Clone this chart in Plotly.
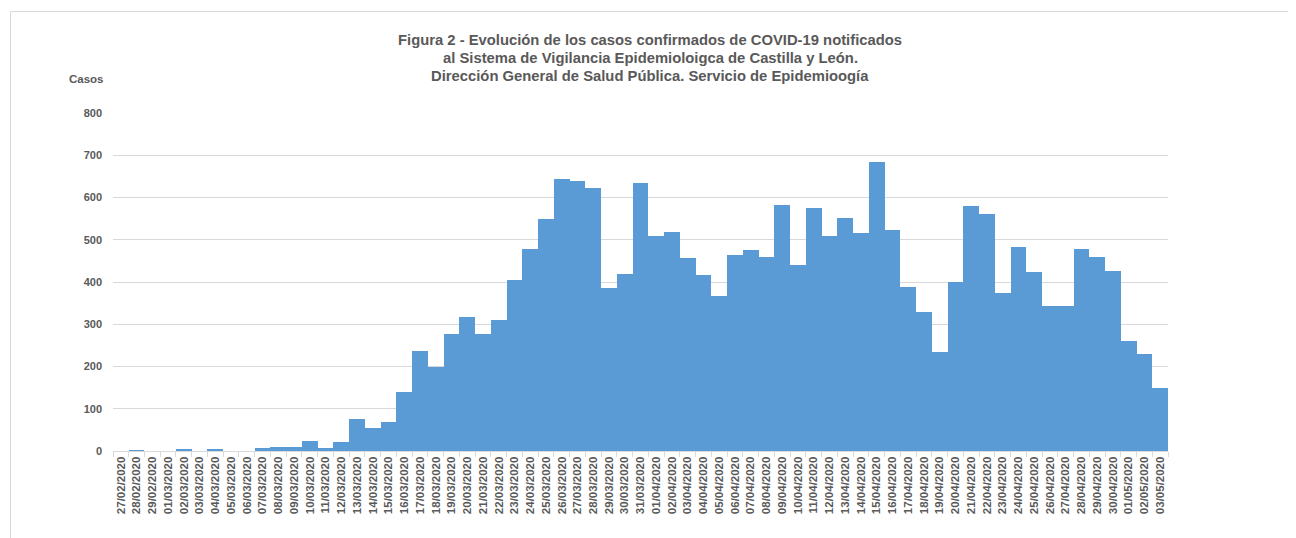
import plotly.graph_objects as go

fechas = [
    "27/02/2020", "28/02/2020", "29/02/2020",
    "01/03/2020", "02/03/2020", "03/03/2020", "04/03/2020", "05/03/2020", "06/03/2020",
    "07/03/2020", "08/03/2020", "09/03/2020", "10/03/2020", "11/03/2020", "12/03/2020",
    "13/03/2020", "14/03/2020", "15/03/2020", "16/03/2020", "17/03/2020", "18/03/2020",
    "19/03/2020", "20/03/2020", "21/03/2020", "22/03/2020", "23/03/2020", "24/03/2020",
    "25/03/2020", "26/03/2020", "27/03/2020", "28/03/2020", "29/03/2020", "30/03/2020",
    "31/03/2020",
    "01/04/2020", "02/04/2020", "03/04/2020", "04/04/2020", "05/04/2020", "06/04/2020",
    "07/04/2020", "08/04/2020", "09/04/2020", "10/04/2020", "11/04/2020", "12/04/2020",
    "13/04/2020", "14/04/2020", "15/04/2020", "16/04/2020", "17/04/2020", "18/04/2020",
    "19/04/2020", "20/04/2020", "21/04/2020", "22/04/2020", "23/04/2020", "24/04/2020",
    "25/04/2020", "26/04/2020", "27/04/2020", "28/04/2020", "29/04/2020", "30/04/2020",
    "01/05/2020", "02/05/2020", "03/05/2020",
]

casos = [
    0, 2, 0,
    0, 5, 0, 4, 0, 0,
    7, 9, 10, 24, 6, 21,
    76, 54, 69, 139, 236, 199,
    278, 318, 277, 310, 405, 479,
    548, 643, 639, 622, 386, 419,
    635,
    508, 519, 456, 417, 366, 464,
    476, 460, 583, 440, 574, 509,
    551, 516, 683, 522, 389, 328,
    235, 401, 579, 562, 373, 482,
    424, 343, 343, 478, 460, 426,
    260, 229, 149,
]

y_ticks = [0, 100, 200, 300, 400, 500, 600, 700, 800]

titulo = [
    "Figura 2 - Evolución de los casos confirmados de COVID-19 notificados",
    "al Sistema de Vigilancia Epidemioloigca de Castilla y León.",
    "Dirección General de Salud Pública. Servicio de Epidemioogía",
]

TXT = "#595959"
FONT = "Liberation Sans, Arial, sans-serif"

# page has an 8px body margin; positions below are in page pixels
OFF = 8
W, H = 1296, 538
PL, PR, PT, PB = 113, 1168, 113, 451  # plot area in page pixels
L, T = PL - OFF, PT - OFF
R, B = W - (PR - OFF), H - (PB - OFF)
pw, ph = PR - PL, PB - PT

def px_x(x):
    return (x - PL) / pw

def px_y(y):
    return (PB - y) / ph

fig = go.Figure(
    go.Bar(
        x=fechas,
        y=casos,
        marker=dict(color="#5B9BD5", line=dict(width=0)),
        hoverinfo="x+y",
    )
)

annotations = []
for i, line in enumerate(titulo):
    annotations.append(dict(
        text="<b>%s</b>" % line,
        xref="paper", yref="paper",
        x=px_x(650), y=px_y(40 + 18 * i),
        xanchor="center", yanchor="middle",
        showarrow=False,
        font=dict(family=FONT, size=14.8, color=TXT),
    ))
annotations.append(dict(
    text="<b>Casos</b>",
    xref="paper", yref="paper",
    x=px_x(86), y=px_y(79),
    xanchor="center", yanchor="middle",
    showarrow=False,
    font=dict(family=FONT, size=11.5, color=TXT),
))

fig.update_layout(
    width=W, height=H,
    margin=dict(l=L, r=R, t=T, b=B, pad=0),
    paper_bgcolor="white",
    plot_bgcolor="white",
    bargap=0,
    showlegend=False,
    annotations=annotations,
    shapes=[dict(
        type="rect", xref="paper", yref="paper",
        x0=px_x(10.5), x1=px_x(1320), y0=px_y(560), y1=px_y(11.5),
        line=dict(color="#d9d9d9", width=1), fillcolor="rgba(0,0,0,0)",
        layer="below",
    )],
    xaxis=dict(
        type="category",
        tickangle=-90,
        tickson="boundaries",
        ticks="outside",
        ticklen=5,
        tickcolor="#d9d9d9",
        showline=True,
        linecolor="#d9d9d9",
        linewidth=1,
        showgrid=False,
        tickfont=dict(family=FONT, size=11.5, color=TXT, weight="bold"),
        fixedrange=True,
    ),
    yaxis=dict(
        range=[0, 800],
        tickvals=y_ticks,
        showgrid=True,
        gridcolor="#d9d9d9",
        gridwidth=1,
        zeroline=False,
        showline=False,
        ticks="",
        ticklabelstandoff=10,
        tickfont=dict(family=FONT, size=11, color=TXT, weight="bold"),
        fixedrange=True,
    ),
)

fig.write_html("out.html")
